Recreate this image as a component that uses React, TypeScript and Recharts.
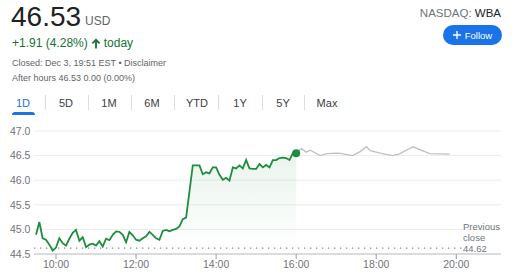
import React from 'react';
import { ComposedChart, Area, Line, XAxis, YAxis, CartesianGrid, ReferenceLine, ReferenceDot } from 'recharts';

// minutes since midnight, 5 min bars for the regular session
const sessionTimes = [
  570, 575, 580, 585, 590, 595, 600, 605, 610, 615, 620, 625, 630, 635, 640, 645, 650, 655, 660, 665,
  670, 675, 680, 685, 690, 695, 700, 705, 710, 715, 720, 725, 730, 735, 740, 745, 750, 755, 760, 765,
  770, 775, 780, 785, 790, 795, 800, 805, 810, 815, 820, 825, 830, 835, 840, 845, 850, 855, 860, 865,
  870, 875, 880, 885, 890, 895, 900, 905, 910, 915, 920, 925, 930, 935, 940, 945, 950, 955, 960,
];
const sessionPrices = [
  44.89, 45.15, 44.82, 44.79, 44.69, 44.57, 44.63, 44.82, 44.72, 44.67, 44.81, 44.93, 44.99, 44.77, 44.84, 44.64, 44.69, 44.71, 44.67, 44.76,
  44.65, 44.81, 44.78, 44.89, 44.96, 44.95, 44.89, 44.74, 44.95, 44.88, 44.79, 44.77, 44.82, 44.86, 44.95, 44.89, 44.82, 44.79, 44.97, 44.99,
  44.96, 44.99, 45.01, 45.06, 45.21, 45.24, 45.77, 46.3, 46.3, 46.3, 46.12, 46.16, 46.14, 46.26, 46.26, 46.11, 46.01, 46.05, 45.99, 46.26,
  46.24, 46.3, 46.24, 46.41, 46.24, 46.23, 46.23, 46.33, 46.26, 46.31, 46.26, 46.41, 46.41, 46.45, 46.46, 46.45, 46.41, 46.55, 46.55,
];
const afterTimes = [960, 968, 975, 981, 996, 1006, 1024, 1044, 1056, 1065, 1071, 1086, 1104, 1114, 1135, 1160, 1190];
const afterPrices = [46.55, 46.64, 46.57, 46.61, 46.5, 46.54, 46.55, 46.5, 46.58, 46.68, 46.6, 46.55, 46.5, 46.53, 46.68, 46.54, 46.53];
const previousClose = 44.62;
const xTicks = [600, 720, 840, 960, 1080, 1200];
const yTicks = [44.5, 45, 45.5, 46, 46.5, 47];
const ranges = ['1D', '5D', '1M', '6M', 'YTD', '1Y', '5Y', 'Max'];

const chartData = [
  ...sessionTimes.map((t, i) => ({
    t,
    price: sessionPrices[i],
    after: t === afterTimes[0] ? afterPrices[0] : undefined,
  })),
  ...afterTimes.slice(1).map((t, i) => ({ t, after: afterPrices[i + 1] })),
];

const FONT = 'Arial, "Liberation Sans", sans-serif';
const GREEN = '#1e8e3e';
const TAB_X = [23, 66, 109, 152, 197, 240, 283, 327];
const SEP_X = [45, 88, 131, 174, 218, 262, 304];

const fmtTime = (m: number) => `${Math.floor(m / 60)}:${String(m % 60).padStart(2, '0')}`;

const YTick = (props: any) => (
  <text x={10} y={props.y} dy={3.8} fontSize={10.5} fill="#70757a" fontFamily={FONT} textAnchor="start">
    {Number(props.payload.value).toFixed(1)}
  </text>
);

export default function App() {
  const last = sessionTimes.length - 1;
  return (
    <div style={{ position: 'absolute', left: 0, top: 0, width: 520, height: 272, background: '#fff', fontFamily: FONT, overflow: 'hidden' }}>
      <div style={{ position: 'absolute', left: 0, top: 0 }}>
        <ComposedChart width={520} height={272} data={chartData} margin={{ top: 131, right: 19, bottom: 0, left: 0 }}>
          <defs>
            <linearGradient id="upFill" x1="0" y1="0" x2="0" y2="1">
              <stop offset="0%" stopColor={GREEN} stopOpacity={0.16} />
              <stop offset="100%" stopColor={GREEN} stopOpacity={0} />
            </linearGradient>
          </defs>
          <CartesianGrid vertical={false} stroke="#ececec" />
          <XAxis
            dataKey="t"
            type="number"
            domain={[567, 1267]}
            ticks={xTicks}
            tickFormatter={fmtTime}
            height={18}
            stroke="#bdc1c6"
            tickSize={5}
            tickLine={{ stroke: '#9aa0a6' }}
            tick={{ fill: '#70757a', fontSize: 10.5, fontFamily: FONT }}
            interval={0}
          />
          <YAxis
            type="number"
            domain={[44.5, 47]}
            ticks={yTicks}
            width={34}
            axisLine={false}
            tickLine={false}
            tick={YTick}
            interval={0}
          />
          <ReferenceLine
            segment={[{ x: 567, y: previousClose }, { x: 1208, y: previousClose }]}
            stroke="#80868b"
            strokeWidth={1.3}
            strokeDasharray="1.3 4.7"
          />
          <Area
            type="linear"
            dataKey="price"
            stroke={GREEN}
            strokeWidth={1.8}
            fill="url(#upFill)"
            baseValue={previousClose}
            dot={false}
            activeDot={false}
            isAnimationActive={false}
          />
          <Line
            type="linear"
            dataKey="after"
            stroke="#bdc1c6"
            strokeWidth={1.4}
            dot={false}
            activeDot={false}
            connectNulls
            isAnimationActive={false}
          />
          <ReferenceDot x={sessionTimes[last]} y={sessionPrices[last]} r={4} fill={GREEN} stroke="none" />
        </ComposedChart>
      </div>

      <div style={{ position: 'absolute', left: 463, top: 221, fontSize: 9.5, lineHeight: '11.2px', color: '#70757a' }}>
        Previous
        <br />
        close
        <br />
        {previousClose.toFixed(2)}
      </div>

      <div style={{ position: 'absolute', left: 11, top: 2, fontSize: 28, lineHeight: '30px', color: '#202124' }}>46.53</div>
      <div style={{ position: 'absolute', left: 85, top: 14, fontSize: 12, lineHeight: '14px', color: '#5f6368' }}>USD</div>
      <div style={{ position: 'absolute', left: 12, top: 36, fontSize: 12, lineHeight: '14px', color: '#137333', display: 'flex', alignItems: 'center', whiteSpace: 'nowrap' }}>
        <span>+1.91 (4.28%)</span>
        <svg width={10} height={11} viewBox="0 0 10 11" style={{ margin: '0 3px 0 3px' }}>
          <path d="M5 0.5 L9.2 4.8 L8 6 L5.9 3.9 V10.5 H4.1 V3.9 L2 6 L0.8 4.8 Z" fill="#137333" />
        </svg>
        <span>today</span>
      </div>
      <div style={{ position: 'absolute', left: 12, top: 57, fontSize: 9, lineHeight: '12px', color: '#5f6368', whiteSpace: 'nowrap' }}>
        Closed: Dec 3, 19:51 EST • Disclaimer
      </div>
      <div style={{ position: 'absolute', left: 12, top: 72, fontSize: 9, lineHeight: '12px', color: '#5f6368', whiteSpace: 'nowrap' }}>
        After hours 46.53 0.00 (0.00%)
      </div>

      {ranges.map((r, i) => (
        <div
          key={r}
          style={{
            position: 'absolute',
            left: TAB_X[i] - 20,
            width: 40,
            top: 96,
            textAlign: 'center',
            fontSize: 11,
            lineHeight: '14px',
            color: i === 0 ? '#1a73e8' : '#3c4043',
          }}
        >
          {r}
        </div>
      ))}
      {SEP_X.map((x) => (
        <div key={x} style={{ position: 'absolute', left: x, top: 95, width: 1, height: 15, background: '#dadce0' }} />
      ))}
      <div style={{ position: 'absolute', left: 12, top: 112, width: 23, height: 3, borderRadius: '3px 3px 0 0', background: '#1a73e8' }} />

      <div style={{ position: 'absolute', right: 19, top: 6, fontSize: 11.5, lineHeight: '14px', whiteSpace: 'nowrap' }}>
        <span style={{ color: '#70757a' }}>NASDAQ: </span>
        <span style={{ color: '#202124' }}>WBA</span>
      </div>
      <div
        style={{
          position: 'absolute',
          left: 443,
          top: 25,
          width: 59,
          height: 20,
          borderRadius: 10,
          background: '#1a73e8',
          color: '#fff',
          fontSize: 9.5,
          display: 'flex',
          alignItems: 'center',
          justifyContent: 'center',
          gap: 4,
        }}
      >
        <svg width={8} height={8} viewBox="0 0 8 8">
          <path d="M4 0 V8 M0 4 H8" stroke="#fff" strokeWidth={1.4} />
        </svg>
        <span>Follow</span>
      </div>
    </div>
  );
}
